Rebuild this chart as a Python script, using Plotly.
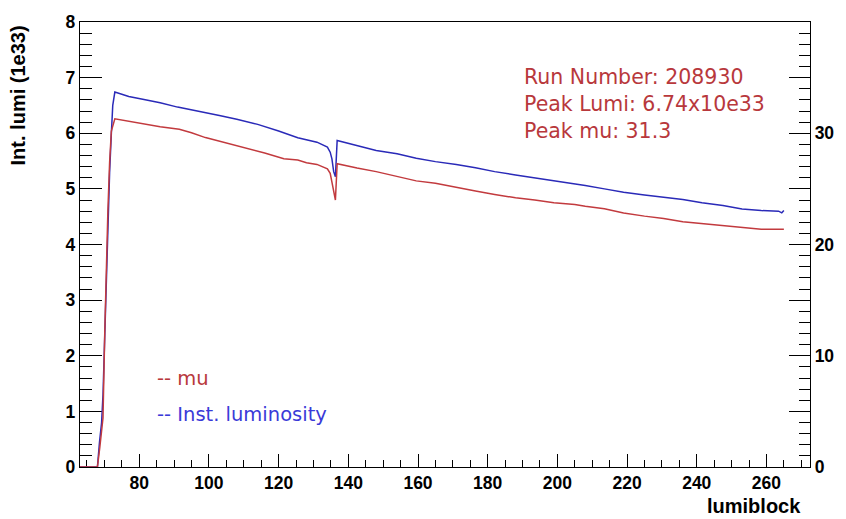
import plotly.graph_objects as go

# ---- data ----
lumi_lb = [63, 68, 68.6, 69.2, 69.6, 70.1, 70.6, 71, 71.5, 72, 72.4, 73,
           77, 81, 86, 91, 97, 103, 108, 114, 120, 125.5, 131, 134, 134.8,
           135.3, 135.8, 136.3, 136.8, 140.5, 142.4, 148, 154, 159.5, 165,
           171, 176.5, 182, 188, 193.5, 199, 205, 208, 213.5, 219, 225,
           230.5, 236, 241.5, 247.5, 253, 258.5, 263.5, 264.4, 265]
lumi = [0, 0, 0.45, 0.8, 1.3, 2.3, 3.6, 4.5, 5.3, 6.0, 6.5, 6.74,
        6.66, 6.61, 6.55, 6.47, 6.40, 6.32, 6.25, 6.16, 6.04, 5.92, 5.84, 5.75, 5.66,
        5.54, 5.31, 5.22, 5.87, 5.81, 5.77, 5.69, 5.63, 5.55, 5.49,
        5.44, 5.38, 5.31, 5.25, 5.20, 5.14, 5.09, 5.06, 5.00, 4.94, 4.89,
        4.85, 4.81, 4.75, 4.70, 4.64, 4.61, 4.60, 4.57, 4.61]

mu_lb = [63, 68, 68.7, 69.6, 70.1, 70.6, 71, 71.5, 72, 73,
         77, 82, 86, 91.5, 95, 99, 104.5, 110.5, 116, 121.5,
         125.5, 128, 131, 134, 134.8, 135.3, 135.8, 136.3, 136.8, 140.5,
         142.5, 148, 154, 159.5, 165, 171, 176.5, 182, 188, 193.5,
         199, 205, 208, 213.5, 219, 225, 230.5, 236, 241.5, 247.5,
         253, 258.5, 265]
mu = [0, 0, 1.8, 4.4, 12.0, 18.6, 23.0, 27.4, 30.2, 31.3,
      31.08, 30.79, 30.58, 30.35, 30.05, 29.61, 29.17, 28.72, 28.23, 27.70,
      27.6, 27.35, 27.2, 26.8, 26.4, 25.6, 24.75, 24.0, 27.26, 27.0,
      26.87, 26.55, 26.1, 25.72, 25.5, 25.1, 24.8, 24.5, 24.2, 24.0,
      23.75, 23.6, 23.43, 23.22, 22.84, 22.55, 22.34, 22.05, 21.87, 21.72,
      21.52, 21.37, 21.37]

x_ticks = [80, 100, 120, 140, 160, 180, 200, 220, 240, 260]
y_ticks = [0, 1, 2, 3, 4, 5, 6, 7, 8]
y2_ticks = [0, 5, 10, 15, 20, 25, 30, 35, 40]
y2_text = ["0", "", "10", "", "20", "", "30", "", ""]

info_lines = ["Run Number: 208930", "Peak Lumi: 6.74x10e33", "Peak mu: 31.3"]
legend_lines = ["-- mu", "-- Inst. luminosity"]

BLUE = "#2a2ab8"
RED = "#c23a3e"
RED_TXT = "#b8383c"
BLUE_TXT = "#3a3ad8"

W, H = 846, 519
L, R, T, B = 80, 27, 14, 52
pw, ph = W - L - R, H - T - B


def px(x):
    return (x - L) / pw


def py(y):
    return (H - B - y) / ph


fig = go.Figure()
fig.add_trace(go.Scatter(x=lumi_lb, y=lumi, mode="lines",
                         line=dict(color=BLUE, width=1.5), yaxis="y",
                         showlegend=False, hoverinfo="skip"))
fig.add_trace(go.Scatter(x=mu_lb, y=mu, mode="lines",
                         line=dict(color=RED, width=1.5), yaxis="y2",
                         showlegend=False, hoverinfo="skip"))

tickfont = dict(family="Liberation Sans, Arial", size=17.5, color="black", weight="bold")

fig.update_layout(
    width=W, height=H,
    margin=dict(l=L, r=R, t=T, b=B),
    paper_bgcolor="white", plot_bgcolor="white",
    xaxis=dict(range=[63, 272.5], tickvals=x_ticks, ticks="inside", ticklen=13,
               tickwidth=1.3, tickcolor="black", tickfont=tickfont,
               minor=dict(dtick=5, tick0=0, ticks="inside", ticklen=7,
                          tickcolor="black", tickwidth=1.3),
               showline=True, linecolor="black", linewidth=1.3, mirror=True,
               showgrid=False, zeroline=False, layer="below traces"),
    yaxis=dict(range=[0, 8], tickvals=y_ticks, ticks="inside", ticklen=22,
               tickwidth=1.3, tickcolor="black", tickfont=tickfont,
               minor=dict(dtick=0.2, tick0=0, ticks="inside", ticklen=12,
                          tickcolor="black", tickwidth=1.3),
               showline=True, linecolor="black", linewidth=1.3,
               showgrid=False, zeroline=False, layer="below traces"),
    yaxis2=dict(range=[0, 40], overlaying="y", side="right",
                tickvals=y2_ticks, ticktext=y2_text, ticks="inside", ticklen=21,
                tickwidth=1.3, tickcolor="black", tickfont=tickfont,
                minor=dict(dtick=1, tick0=0, ticks="inside", ticklen=11,
                           tickcolor="black", tickwidth=1.3),
                showline=True, linecolor="black", linewidth=1.3,
                showgrid=False, zeroline=False, layer="below traces"),
)

annotations = []
titlefont = dict(family="Liberation Sans, Arial", size=20, color="black", weight="bold")
annotations.append(dict(text="Int. lumi (1e33)", textangle=-90, xref="paper", yref="paper",
                        x=px(17), y=py(89), xanchor="center", yanchor="middle",
                        showarrow=False, font=titlefont))
annotations.append(dict(text="lumiblock", xref="paper", yref="paper",
                        x=px(812), y=py(507), xanchor="right", yanchor="middle",
                        showarrow=False, font=titlefont))

txtfont = dict(family="DejaVu Sans", size=20.5, color=RED_TXT)
for i, line in enumerate(info_lines):
    annotations.append(dict(text=line, xref="paper", yref="paper",
                            x=px(527), y=py(70 + 27.5 * i), xanchor="left", yanchor="middle",
                            showarrow=False, font=txtfont))

leg_colors = [RED_TXT, BLUE_TXT]
leg_y = [377, 414]
for line, c, yy in zip(legend_lines, leg_colors, leg_y):
    annotations.append(dict(text=line, xref="paper", yref="paper",
                            x=px(156), y=py(yy), xanchor="left", yanchor="middle",
                            showarrow=False, font=dict(family="DejaVu Sans", size=19.5, color=c)))

fig.update_layout(annotations=annotations)
fig.write_html("out.html")
